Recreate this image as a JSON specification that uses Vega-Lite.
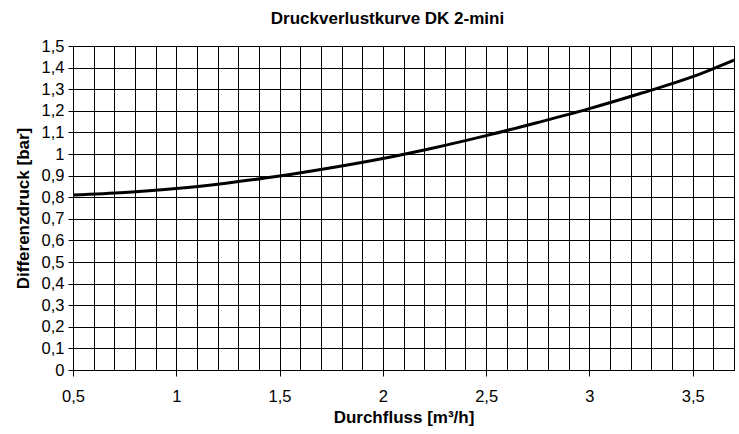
{
  "$schema": "https://vega.github.io/schema/vega-lite/v6.json",
  "width": 661,
  "height": 324,
  "autosize": {"type": "none"},
  "padding": {"left": 73, "top": 46, "right": 5, "bottom": 64},
  "background": "white",
  "config": {
    "font": "Liberation Sans",
    "view": {"stroke": "#000", "strokeWidth": 1},
    "axis": {"labelFont": "Liberation Sans", "titleFont": "Liberation Sans", "labelColor": "#000", "titleColor": "#000", "domainColor": "#000", "tickColor": "#000", "gridColor": "#000", "gridOpacity": 1, "gridWidth": 1}
  },
  "title": {
    "text": "Druckverlustkurve DK 2-mini",
    "font": "Liberation Sans",
    "fontSize": 17,
    "fontWeight": "bold",
    "color": "#000",
    "anchor": "middle",
    "dx": -16,
    "offset": 10
  },
  "data": {
    "values": [
      {"q": 0.5, "dp": 0.810},
      {"q": 0.75, "dp": 0.822},
      {"q": 1.0, "dp": 0.840},
      {"q": 1.25, "dp": 0.866},
      {"q": 1.5, "dp": 0.898},
      {"q": 1.75, "dp": 0.936},
      {"q": 2.0, "dp": 0.979},
      {"q": 2.25, "dp": 1.029},
      {"q": 2.5, "dp": 1.085},
      {"q": 2.75, "dp": 1.146},
      {"q": 3.0, "dp": 1.210},
      {"q": 3.25, "dp": 1.281},
      {"q": 3.5, "dp": 1.358},
      {"q": 3.7, "dp": 1.435}
    ]
  },
  "mark": {"type": "line", "color": "#000", "strokeWidth": 3, "interpolate": "monotone", "clip": true},
  "encoding": {
    "x": {
      "field": "q",
      "type": "quantitative",
      "scale": {"domain": [0.5, 3.7], "nice": false, "zero": false},
      "axis": {
        "title": "Durchfluss [m³/h]",
        "titleFontSize": 17,
        "titleFontWeight": "bold",
        "titlePadding": 5,
        "values": [0.5, 0.6, 0.7, 0.8, 0.9, 1.0, 1.1, 1.2, 1.3, 1.4, 1.5, 1.6, 1.7, 1.8, 1.9, 2.0, 2.1, 2.2, 2.3, 2.4, 2.5, 2.6, 2.7, 2.8, 2.9, 3.0, 3.1, 3.2, 3.3, 3.4, 3.5, 3.6, 3.7],
        "labelExpr": "abs(datum.value*2 - round(datum.value*2)) < 0.001 ? replace(format(datum.value, '~g'), '.', ',') : ''",
        "tickOpacity": {"condition": {"test": "abs(datum.value*2 - round(datum.value*2)) < 0.001", "value": 1}, "value": 0},
        "labelFontSize": 16.5,
        "labelPadding": 12,
        "tickSize": 6,
        "grid": true,
        "labelFlush": false,
        "labelOverlap": false
      }
    },
    "y": {
      "field": "dp",
      "type": "quantitative",
      "scale": {"domain": [0, 1.5], "nice": false},
      "axis": {
        "title": "Differenzdruck [bar]",
        "titleFontSize": 17,
        "titleFontWeight": "bold",
        "titlePadding": 9,
        "values": [0, 0.1, 0.2, 0.3, 0.4, 0.5, 0.6, 0.7, 0.8, 0.9, 1.0, 1.1, 1.2, 1.3, 1.4, 1.5],
        "labelExpr": "replace(format(datum.value, '~g'), '.', ',')",
        "labelFontSize": 16.5,
        "labelPadding": 4,
        "tickSize": 5,
        "grid": true,
        "labelOverlap": false,
        "labelFlush": false
      }
    }
  }
}
